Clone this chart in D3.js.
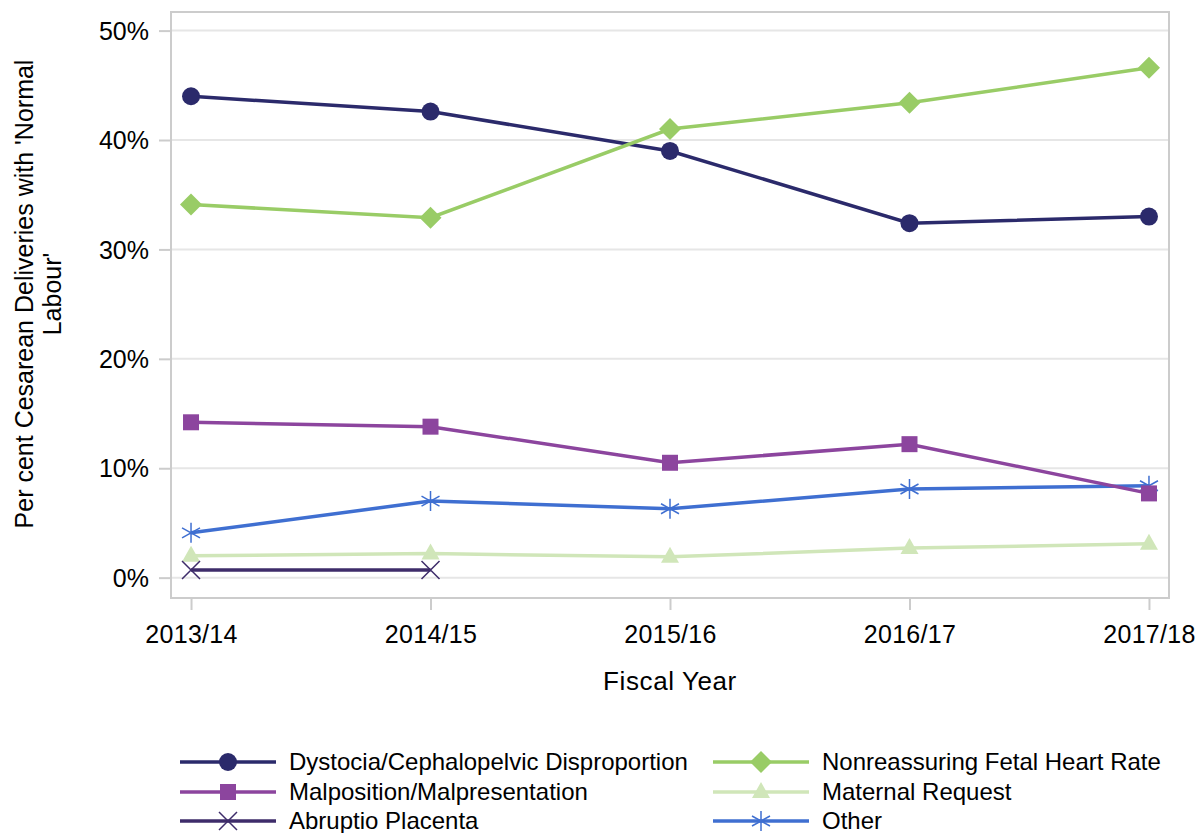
<!DOCTYPE html>
<html><head><meta charset="utf-8">
<script src="https://cdn.jsdelivr.net/npm/d3@7"></script>
<style>body{margin:0;background:#fff}text{font-family:"Liberation Sans",Arial,sans-serif;fill:#000}</style>
</head><body><svg id="c" width="1197" height="833"></svg>
<script>
const years = ["2013/14","2014/15","2015/16","2016/17","2017/18"];
const yTicks = [0,10,20,30,40,50];
const dystocia = [44.0,42.6,39.0,32.4,33.0];
const malposition = [14.2,13.8,10.5,12.2,7.7];
const abruptio = [0.7,0.7,null,null,null];
const nfhr = [34.1,32.9,41.0,43.4,46.6];
const maternal = [2.0,2.2,1.9,2.7,3.1];
const other = [4.1,7.0,6.3,8.1,8.4];

const series = [
 {name:"Dystocia/Cephalopelvic Disproportion", values:dystocia, color:"#2b2a6b", marker:"circle"},
 {name:"Malposition/Malpresentation", values:malposition, color:"#8c459e", marker:"square"},
 {name:"Abruptio Placenta", values:abruptio, color:"#3e2c6a", marker:"x"},
 {name:"Nonreassuring Fetal Heart Rate", values:nfhr, color:"#99cc66", marker:"diamond"},
 {name:"Maternal Request", values:maternal, color:"#d0e6b9", marker:"triangle"},
 {name:"Other", values:other, color:"#3f6fd1", marker:"star"}
];
const drawOrder = [4,2,5,1,0,3];

const svg = d3.select("#c");
const L=171,R=1169,T=12,B=598;
const xs = d3.scaleLinear().domain([-0.0836,4.0836]).range([L,R]);
const xp = d => xs(years.indexOf(d));
const y = d3.scaleLinear().domain([-1.86,51.7]).range([B,T]);

// grid
svg.append("g").selectAll("line").data(yTicks).join("line")
 .attr("x1",L).attr("x2",R).attr("y1",d=>y(d)).attr("y2",d=>y(d))
 .attr("stroke","#e6e6e6").attr("stroke-width",2);

// frame
svg.append("rect").attr("x",L).attr("y",T).attr("width",R-L).attr("height",B-T)
 .attr("fill","none").attr("stroke","#cccccc").attr("stroke-width",2);

// y axis
const ya = svg.append("g").attr("transform",`translate(${L},0)`)
 .call(d3.axisLeft(y).tickValues(yTicks).tickFormat(d=>d+"%").tickSize(12).tickPadding(10));
ya.select(".domain").remove();
ya.selectAll("line").attr("stroke","#cccccc").attr("stroke-width",2);
ya.selectAll("text").style("font-size","25px").attr("dy","0.35em");

// x axis
const xa = svg.append("g").attr("transform",`translate(0,${B})`)
 .call(d3.axisBottom(xs).tickValues(d3.range(years.length)).tickFormat(i=>years[i]).tickSize(12).tickPadding(15));
xa.select(".domain").remove();
xa.selectAll("line").attr("stroke","#cccccc").attr("stroke-width",2);
xa.selectAll("text").style("font-size","25px").style("letter-spacing","0.3px");

// axis titles
svg.append("text").attr("x",(L+R)/2).attr("y",690).attr("text-anchor","middle")
 .style("font-size","26px").style("letter-spacing","0.6px").text("Fiscal Year");
const yt = svg.append("text").attr("transform","translate(33,294) rotate(-90)")
 .attr("text-anchor","middle").style("font-size","25px");
yt.append("tspan").attr("x",0).attr("dy",0).text("Per cent Cesarean Deliveries with 'Normal");
yt.append("tspan").attr("x",0).attr("dy",28).text("Labour'");

function marker(g, type, color, cx, cy){
 if(type==="circle") g.append("circle").attr("cx",cx).attr("cy",cy).attr("r",9).attr("fill",color);
 else if(type==="square") g.append("rect").attr("x",cx-8).attr("y",cy-8).attr("width",16).attr("height",16).attr("fill",color);
 else if(type==="diamond") g.append("path").attr("d",`M${cx},${cy-11}L${cx+11},${cy}L${cx},${cy+11}L${cx-11},${cy}Z`).attr("fill",color);
 else if(type==="triangle") g.append("path").attr("d",`M${cx},${cy-10}L${cx+9},${cy+6}L${cx-9},${cy+6}Z`).attr("fill",color);
 else if(type==="x") g.append("path").attr("d",`M${cx-9},${cy-9}L${cx+9},${cy+9}M${cx-9},${cy+9}L${cx+9},${cy-9}`).attr("stroke",color).attr("stroke-width",1.5);
 else if(type==="star") g.append("path").attr("d",`M${cx},${cy-10}L${cx},${cy+10}M${cx-9},${cy-5}L${cx+9},${cy+5}M${cx-9},${cy+5}L${cx+9},${cy-5}`).attr("stroke",color).attr("stroke-width",1.5);
}

const line = d3.line().defined(d=>d.v!=null).x(d=>xp(d.k)).y(d=>y(d.v));
drawOrder.forEach(i=>{
 const s = series[i];
 const pts = years.map((k,j)=>({k, v:s.values[j]}));
 const g = svg.append("g");
 g.append("path").datum(pts).attr("d",line).attr("fill","none").attr("stroke",s.color).attr("stroke-width",3.5);
 pts.filter(p=>p.v!=null).forEach(p=>marker(g,s.marker,s.color,xp(p.k),y(p.v)));
});

// legend
const legPos = [[180,762],[180,792],[180,821],[713,762],[713,792],[713,821]];
series.forEach((s,i)=>{
 const [lx,ly]=legPos[i];
 const g=svg.append("g");
 g.append("line").attr("x1",lx).attr("x2",lx+96).attr("y1",ly).attr("y2",ly).attr("stroke",s.color).attr("stroke-width",3.5);
 marker(g,s.marker,s.color,lx+48,ly);
 g.append("text").attr("x",lx+109).attr("y",ly).attr("dy","0.35em").style("font-size","24px").text(s.name);
});
</script></body></html>
